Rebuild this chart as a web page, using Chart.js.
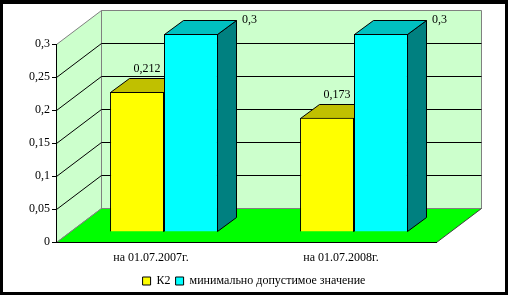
<!DOCTYPE html>
<html>
<head>
<meta charset="utf-8">
<script src="https://cdn.jsdelivr.net/npm/chart.js@4"></script>
<style>
  html, body { margin: 0; padding: 0; background: #000; }
  canvas { display: block; }
</style>
</head>
<body>
<canvas id="chart" width="508" height="295"></canvas>
<script>
const categories = ['на 01.07.2007г.', 'на 01.07.2008г.'];
const k2Values = [0.212, 0.173];
const minValues = [0.3, 0.3];
const seriesNames = ['К2', 'минимально допустимое значение'];

// 3d offsets (px)
const wallDepth = { x: 45, y: -34 };
const barDepth = { x: 19, y: -14 };
const barShift = { x: 13, y: -10 };

function fmt(v) {
  return String(Math.round(v * 1000) / 1000).replace('.', ',');
}

function poly(ctx, pts, fill, stroke) {
  ctx.beginPath();
  ctx.moveTo(pts[0][0], pts[0][1]);
  for (let i = 1; i < pts.length; i++) ctx.lineTo(pts[i][0], pts[i][1]);
  ctx.closePath();
  if (fill) { ctx.fillStyle = fill; ctx.fill(); }
  if (stroke) { ctx.strokeStyle = stroke; ctx.lineWidth = 1; ctx.stroke(); }
}

const frame3d = {
  id: 'frame3d',
  beforeDraw(chart) {
    const ctx = chart.ctx;
    const { left, right } = chart.chartArea;
    const ys = chart.scales.y;
    const y0 = Math.round(ys.getPixelForValue(0)) + 0.5;
    const yTop = Math.round(ys.getPixelForValue(0.3)) + 0.5;
    const dx = wallDepth.x, dy = wallDepth.y;
    const l = Math.round(left) + 0.5, r = Math.round(right) + 0.5;

    ctx.save();
    ctx.fillStyle = '#000';
    ctx.fillRect(0, 0, chart.width, chart.height);
    ctx.fillStyle = '#fff';
    ctx.fillRect(3, 4, chart.width - 6, chart.height - 7);

    // back wall + side wall
    poly(ctx, [[l + dx, yTop + dy], [r + dx, yTop + dy], [r + dx, y0 + dy], [l + dx, y0 + dy]], '#ccffcc', '#808080');
    poly(ctx, [[l, y0], [l, yTop], [l + dx, yTop + dy], [l + dx, y0 + dy]], '#ccffcc', '#808080');

    // gridlines on walls
    ctx.strokeStyle = '#000';
    ctx.lineWidth = 1;
    ys.ticks.forEach(t => {
      if (t.value <= 0 || t.value >= 0.3) return;
      const py = Math.round(ys.getPixelForValue(t.value)) + 0.5;
      ctx.beginPath();
      ctx.moveTo(l, py);
      ctx.lineTo(l + dx, py + dy);
      ctx.lineTo(r + dx, py + dy);
      ctx.stroke();
    });

    // floor
    poly(ctx, [[l, y0], [r, y0], [r + dx, y0 + dy], [l + dx, y0 + dy]], '#00ff00', null);
    ctx.strokeStyle = '#808080';
    ctx.beginPath();
    ctx.moveTo(l, y0); ctx.lineTo(l + dx, y0 + dy); ctx.lineTo(r + dx, y0 + dy);
    ctx.stroke();
    ctx.strokeStyle = '#404040';
    ctx.beginPath();
    ctx.moveTo(r, y0); ctx.lineTo(r + dx, y0 + dy);
    ctx.stroke();
    ctx.restore();
  },
  beforeDatasetsDraw(chart) {
    const ctx = chart.ctx;
    ctx.save();
    ctx.translate(barShift.x, barShift.y);
    const tops = ['#c0c000', '#00c0c0'];
    const sides = ['#808000', '#008080'];
    chart.data.datasets.forEach((ds, i) => {
      chart.getDatasetMeta(i).data.forEach(el => {
        const lft = Math.round(el.x - el.width / 2) + 0.5;
        const rgt = Math.round(el.x + el.width / 2) - 0.5;
        const top = Math.round(el.y) + 0.5;
        const bot = Math.round(el.base) - 0.5;
        const bx = barDepth.x, by = barDepth.y;
        poly(ctx, [[rgt, top], [rgt + bx, top + by], [rgt + bx, bot + by], [rgt, bot]], sides[i], '#000');
        poly(ctx, [[lft, top], [lft + bx, top + by], [rgt + bx, top + by], [rgt, top]], tops[i], '#000');
      });
    });
  },
  afterDatasetsDraw(chart) {
    const ctx = chart.ctx;
    ctx.font = '12px "Liberation Serif"';
    ctx.fillStyle = '#000';
    ctx.textBaseline = 'middle';
    chart.data.datasets.forEach((ds, i) => {
      chart.getDatasetMeta(i).data.forEach((el, j) => {
        const txt = fmt(ds.data[j]);
        if (i === 0) {
          ctx.textAlign = 'center';
          ctx.fillText(txt, el.x + 10, el.y - 23);
        } else {
          ctx.textAlign = 'left';
          ctx.fillText(txt, el.x + el.width / 2 + barDepth.x + 5, el.y + barDepth.y);
        }
      });
    });
    ctx.restore();
  }
};

Chart.defaults.font.family = '"Liberation Serif", serif';
Chart.defaults.font.size = 12;
Chart.defaults.color = '#000';

new Chart(document.getElementById('chart'), {
  type: 'bar',
  data: {
    labels: categories,
    datasets: [
      {
        label: seriesNames[0],
        data: k2Values,
        backgroundColor: '#ffff00',
        borderColor: '#000',
        borderWidth: 1,
        barPercentage: 1,
        categoryPercentage: 0.568,
        clip: false
      },
      {
        label: seriesNames[1],
        data: minValues,
        backgroundColor: '#00ffff',
        borderColor: '#000',
        borderWidth: 1,
        barPercentage: 1,
        categoryPercentage: 0.568,
        clip: false
      }
    ]
  },
  options: {
    responsive: false,
    animation: false,
    layout: { padding: { left: 3, right: 3, top: 44, bottom: 5 } },
    scales: {
      x: {
        grid: { drawOnChartArea: false, drawTicks: false },
        border: { display: true, color: '#000' },
        ticks: { padding: 9, maxRotation: 0 },
        afterFit(s) { s.height = 28; }
      },
      y: {
        min: 0,
        max: 0.3,
        grid: { drawOnChartArea: false, drawTicks: true, tickLength: 4, color: '#000' },
        border: { display: true, color: '#000' },
        ticks: { stepSize: 0.05, padding: 2, callback: v => fmt(v) },
        afterFit(s) { s.width = 53; }
      },
      yR: {
        type: 'linear',
        position: 'right',
        grid: { display: false },
        border: { display: false },
        ticks: { display: false },
        afterFit(s) { s.width = 69; }
      }
    },
    plugins: {
      legend: {
        position: 'bottom',
        maxHeight: 20,
        labels: { boxWidth: 8, boxHeight: 8, padding: 5 }
      },
      tooltip: { enabled: false }
    }
  },
  plugins: [frame3d]
});
</script>
</body>
</html>
